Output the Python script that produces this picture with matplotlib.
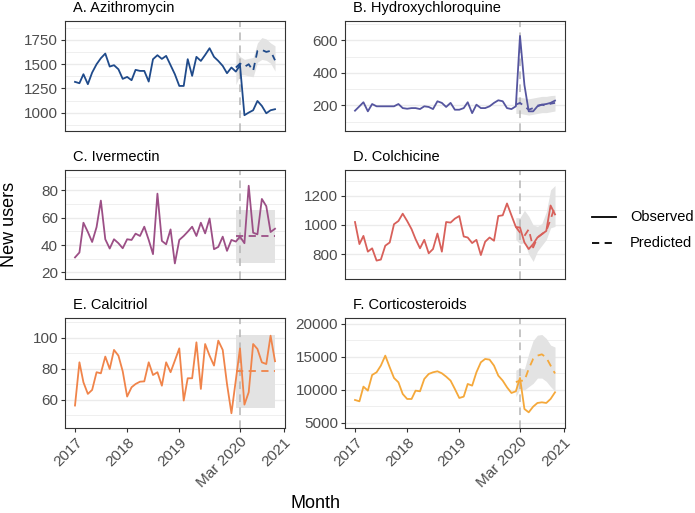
import pandas as pd
import matplotlib
matplotlib.use('Agg')
import matplotlib.pyplot as plt
import matplotlib.dates as mdates
from matplotlib.lines import Line2D
import numpy as np

plt.rcParams['font.family'] = ['Liberation Sans', 'DejaVu Sans']

months = pd.date_range('2017-01-01', periods=47, freq='MS')
pred_start = 37  # Feb 2020
cutoff = pd.Timestamp('2020-03-01')

tick_dates = [pd.Timestamp('2017-01-01'), pd.Timestamp('2018-01-01'), pd.Timestamp('2019-01-01'),
              pd.Timestamp('2020-03-01'), pd.Timestamp('2021-01-01')]
tick_labels = ['2017', '2018', '2019', 'Mar 2020', '2021']

# A. Azithromycin
azi_obs = [1318, 1304, 1397, 1294, 1414, 1500, 1562, 1610, 1476, 1490, 1448, 1349, 1369, 1335, 1442, 1431,
           1431, 1321, 1552, 1593, 1555, 1586, 1490, 1397, 1276, 1276, 1552, 1380, 1576, 1534, 1596, 1665,
           1576, 1534, 1483, 1407, 1466, 1424, 1490, 974, 1001, 1025, 1121, 1070, 994, 1025, 1036]
azi_pred = [1466, 1507, 1473, 1500, 1431, 1638, 1648, 1627, 1638, 1541]
azi_lo = [1290, 1390, 1390, 1380, 1370, 1520, 1550, 1540, 1510, 1430]
azi_hi = [1640, 1580, 1550, 1560, 1570, 1720, 1775, 1760, 1720, 1690]

# B. Hydroxychloroquine
hcq_obs = [167, 194, 219, 163, 208, 194, 194, 194, 194, 194, 208, 183, 179, 183, 183, 177, 194, 190, 177, 225,
           215, 190, 215, 173, 173, 183, 219, 152, 204, 183, 183, 194, 215, 231, 225, 183, 177, 194, 627, 325,
           163, 163, 194, 204, 208, 215, 229]
hcq_pred = [204, 215, 194, 173, 183, 198, 204, 198, 210, 215]
hcq_lo = [150, 150, 145, 140, 145, 150, 155, 155, 160, 165]
hcq_hi = [250, 250, 245, 240, 245, 250, 255, 255, 260, 262]

# C. Ivermectin
ivm_obs = [31.0, 34.6, 56.4, 49.6, 42.3, 53.2, 72.6, 44.3, 37.5, 44.3, 41.4, 37.7, 44.3, 43.8, 48.4, 46.7,
           53.5, 43.8, 33.4, 77.7, 43.1, 40.6, 51.5, 26.6, 43.8, 46.7, 49.8, 53.5, 46.7, 56.4, 48.6, 59.5,
           37.0, 38.7, 46.2, 35.8, 43.8, 42.6, 46.2, 41.4, 83.5, 49.1, 47.9, 73.8, 68.5, 49.6, 52.0]
ivm_pred = [46.5] * 10
ivm_lo = [27] * 10
ivm_hi = [66] * 10

# D. Colchicine
col_obs = [1020, 869, 925, 817, 840, 756, 763, 858, 880, 1005, 1027, 1077, 1027, 971, 903, 840, 898, 806,
           835, 941, 817, 1020, 1016, 1043, 1061, 921, 914, 876, 898, 794, 885, 914, 892, 1061, 1066, 1147,
           1066, 986, 982, 880, 835, 869, 914, 937, 959, 1133, 1072]
col_pred = [986, 948, 925, 970, 846, 914, 937, 959, 1038, 1129]
col_lo = [900, 870, 880, 800, 750, 820, 860, 900, 980, 990]
col_hi = [1050, 1050, 1100, 1060, 1000, 990, 1010, 1090, 1240, 1270]

# E. Calcitriol
cal_obs = [56.4, 84.3, 71.4, 63.9, 66.5, 77.9, 77.2, 88.0, 80.0, 92.3, 88.6, 78.5, 62.2, 68.2, 70.3, 71.8,
           72.0, 84.3, 76.1, 77.9, 69.2, 84.3, 77.9, 85.4, 93.3, 59.6, 74.0, 74.0, 97.2, 67.1, 96.1, 88.6,
           82.2, 98.3, 92.3, 70.3, 51.4, 73.0, 93.3, 57.0, 65.0, 96.1, 92.9, 84.3, 83.2, 101.5, 85.0]
cal_pred = [79] * 10
cal_lo = [55] * 10
cal_hi = [102] * 10

# F. Corticosteroids
cor_obs = [8485, 8283, 10505, 9899, 12273, 12677, 13687, 15202, 13434, 11818, 11162, 9394, 8636, 8636, 9899,
           9798, 11667, 12424, 12677, 12828, 12525, 12020, 11414, 10152, 8788, 8990, 10909, 10657, 12677,
           14192, 14697, 14596, 13687, 12172, 11414, 10404, 9545, 9798, 11818, 7121, 6617, 7475, 8030, 8131,
           8030, 8636, 9646]
cor_pred = [11200, 11400, 11400, 13200, 14700, 15200, 15400, 14900, 13700, 12500]
cor_lo = [9000, 10200, 10000, 10500, 11000, 11800, 11800, 11300, 10500, 9800]
cor_hi = [13000, 13300, 13200, 15500, 17500, 18300, 18400, 17800, 16800, 16500]

panels = [
    ('A. Azithromycin', azi_obs, azi_pred, azi_lo, azi_hi, '#1f4a8a', (811, 1946), [1000, 1250, 1500, 1750], 125),
    ('B. Hydroxychloroquine', hcq_obs, hcq_pred, hcq_lo, hcq_hi, '#55559f', (42, 719), [200, 400, 600], 100),
    ('C. Ivermectin', ivm_obs, ivm_pred, ivm_lo, ivm_hi, '#9c4f86', (15.2, 95), [20, 40, 60, 80], 10),
    ('D. Colchicine', col_obs, col_pred, col_lo, col_hi, '#d8605a', (630, 1376), [800, 1000, 1200], 100),
    ('E. Calcitriol', cal_obs, cal_pred, cal_lo, cal_hi, '#f0844a', (41.9, 112.9), [60, 80, 100], 10),
    ('F. Corticosteroids', cor_obs, cor_pred, cor_lo, cor_hi, '#f5a83a', (4240, 20900), [5000, 10000, 15000, 20000], 2500),
]

W, H = 695, 513
fig = plt.figure(figsize=(W / 100, H / 100), dpi=100)

col_x = [65, 345]
row_y = [(21, 131), (170, 279), (318, 428)]
pw = 220

d0 = mdates.date2num(months[0])
d1 = mdates.date2num(months[-1])
span = d1 - d0
pred_months = months[pred_start:]

for k, (title, obs, pred, lo, hi, color, ylim, yticks, minor) in enumerate(panels):
    r, c = divmod(k, 2)
    top, bot = row_y[r]
    ax = fig.add_axes([col_x[c] / W, 1 - bot / H, pw / W, (bot - top) / H])
    ax.set_xlim(d0 - 0.05 * span, d1 + 0.05 * span)
    ax.set_ylim(*ylim)

    # grid (horizontal only)
    for v in np.arange(yticks[0] - 2 * minor, ylim[1], minor):
        if ylim[0] < v < ylim[1]:
            is_major = any(abs(v - t) < 1e-9 for t in yticks)
            ax.axhline(v, color='#ebebeb', lw=1.0 if is_major else 0.55, zorder=0)

    ax.fill_between(pred_months, lo, hi, color='#e3e3e3', lw=0, zorder=1)
    ax.axvline(cutoff, color='#b5b5b5', lw=1.1, ls=(0, (5, 3.5)), zorder=2)
    ax.plot(months, obs, color=color, lw=1.3, zorder=3)
    ax.plot(pred_months, pred, color=color, lw=1.3, ls=(0, (4, 3)), zorder=3)

    ax.set_yticks(yticks)
    ax.tick_params(axis='y', length=3, width=0.8, color='#333333', labelcolor='#4d4d4d', labelsize=11, pad=2)
    ax.set_xticks([mdates.date2num(t) for t in tick_dates])
    if r == 2:
        ax.set_xticklabels(tick_labels, rotation=45, ha='right', rotation_mode='anchor')
        ax.tick_params(axis='x', length=3, width=0.8, color='#333333', labelcolor='#4d4d4d', labelsize=11, pad=2)
    else:
        ax.set_xticklabels([])
        ax.tick_params(axis='x', length=0)
    for s in ax.spines.values():
        s.set_color('#333333')
        s.set_linewidth(0.8)

    ax.text(8 / pw, 1 + 13 / (bot - top), title, transform=ax.transAxes,
            fontsize=10.5, ha='left', va='center', color='black')

fig.text(10 / W, 1 - 224 / H, 'New users', rotation=90, fontsize=13, ha='center', va='center')
fig.text(315 / W, 1 - 503 / H, 'Month', fontsize=13, ha='center', va='center')

# legend
for yy, ls, lab in [(217, '-', 'Observed'), (243, (0, (4, 3)), 'Predicted')]:
    fig.lines.append(Line2D([592 / W, 616 / W], [1 - yy / H, 1 - yy / H], color='black', lw=1.3, ls=ls,
                            transform=fig.transFigure))
    fig.text(630 / W, 1 - yy / H, lab, fontsize=10.5, ha='left', va='center')

fig.savefig('out.png', dpi=100)
